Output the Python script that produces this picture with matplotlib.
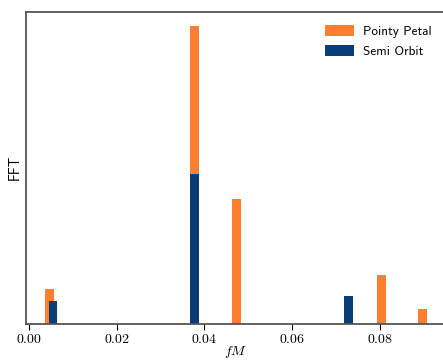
import matplotlib
matplotlib.use("Agg")
import matplotlib.pyplot as plt

plt.rcParams['mathtext.fontset'] = 'cm'

pointy_x = [0.0047, 0.0378, 0.0473, 0.0804, 0.0897]
pointy_y = [0.117, 1.0, 0.42, 0.164, 0.050]
semi_x = [0.0055, 0.0378, 0.0728]
semi_y = [0.077, 0.503, 0.094]
xticks = [0.00, 0.02, 0.04, 0.06, 0.08]
xticklabels = [r'$0.00$', r'$0.02$', r'$0.04$', r'$0.06$', r'$0.08$']

orange = '#fe7f2d'
blue = '#083d77'

fig = plt.figure(figsize=(4.43, 3.6), dpi=100)
ax = fig.add_axes([26/443, 36/360, 420/443, 312.5/360])
ax.bar(pointy_x, pointy_y, width=0.002, color=orange, label='Pointy Petal')
ax.bar(semi_x, semi_y, width=0.002, color=blue, label='Semi Orbit')

for s in ax.spines.values():
    s.set_color('#555555')
    s.set_linewidth(1.3)
ax.set_yticks([])
ax.set_xticks(xticks)
ax.set_xticklabels(xticklabels, fontsize=10)
ax.tick_params(axis='x', direction='out', length=4, color='black', pad=1.5)
ax.set_xlabel(r'$fM$', fontsize=10, labelpad=-1)
ax.set_ylabel('FFT', fontsize=10, family='cmss10', labelpad=3)
leg = ax.legend(loc='upper left', bbox_to_anchor=(287/420, 0.995), frameon=False,
                prop={'family': 'cmss10', 'size': 9.5}, handlelength=2.2,
                handleheight=0.9, handletextpad=0.7, labelspacing=0.55)
fig.savefig('out.png', dpi=100)
